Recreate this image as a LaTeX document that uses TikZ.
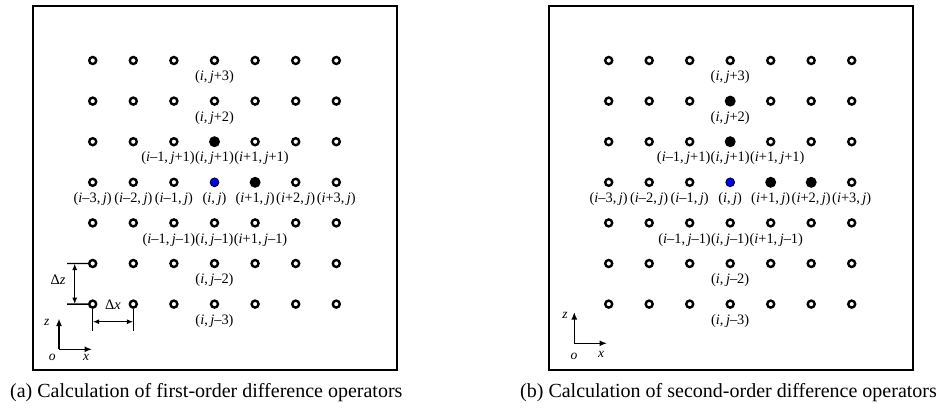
\documentclass[tikz,border=0pt]{standalone}
\usepackage{fontspec}
\setmainfont{Liberation Serif}
\usetikzlibrary{arrows.meta}
\newcommand\cmsp{,\kern0.17em}
\begin{document}
\begin{tikzpicture}[x=1pt,y=-1pt,
  pt/.style={circle, draw=black, line width=2.4pt, minimum size=7pt, inner sep=0pt},
  filled/.style={draw=none, fill=black, minimum size=11pt},
  bluept/.style={fill=blue, line width=0.8pt, minimum size=8.8pt},
  lab/.style={font=\fontsize{14.4}{14.4}\selectfont, inner sep=0pt},
  captext/.style={font=\fontsize{20}{20}\selectfont, inner sep=0pt, anchor=west},
  frame/.style={draw=black, line width=2pt},
  axis/.style={line width=1.6pt, -{Latex[length=7.5pt,width=6pt]}},
  dim/.style={line width=1.4pt, {Latex[length=6.5pt,width=5pt]}-{Latex[length=6.5pt,width=5pt]}},
  ext/.style={line width=1.4pt},
  axl/.style={font=\fontsize{13.5}{13.5}\selectfont\itshape, inner sep=0pt},
  a-3-2/.style={filled}, a-4-3/.style={filled}, a-3-3/.style={bluept},
  b-3-1/.style={filled}, b-3-2/.style={filled}, b-4-3/.style={filled}, b-5-3/.style={filled}, b-3-3/.style={bluept}
]
\useasboundingbox (0,0) rectangle (937,410);

% ---------- panel (a) ----------
\draw[frame] (33,6) rectangle (397,370);
\foreach \c in {0,...,6}{
  \foreach \r in {0,...,6}{
    \node[pt, a-\c-\r/.try] (a-\c-\r) at (92.7+40.6*\c, 60.5+40.6*\r) {};
  }
}
\node[lab] (al-0) at ([yshift=-16.8pt]a-3-0) {(\textit{i}\cmsp\textit{j}+3)};
\node[lab] (al-1) at ([yshift=-16.8pt]a-3-1) {(\textit{i}\cmsp\textit{j}+2)};
\node[lab] (al-2m) at ([yshift=-16.8pt]a-3-2) {(\textit{i}\cmsp\textit{j}+1)};
\node[lab, anchor=east] (al-2l) at (al-2m.west) {(\textit{i}–1\cmsp\textit{j}+1)};
\node[lab, anchor=west] (al-2r) at (al-2m.east) {(\textit{i}+1\cmsp\textit{j}+1)};
\node[lab] (al-30) at ([yshift=-16.8pt]a-0-3) {(\textit{i}–3\cmsp\textit{j})};
\node[lab] (al-31) at ([yshift=-16.8pt]a-1-3) {(\textit{i}–2\cmsp\textit{j})};
\node[lab] (al-32) at ([yshift=-16.8pt]a-2-3) {(\textit{i}–1\cmsp\textit{j})};
\node[lab] (al-33) at ([yshift=-16.8pt]a-3-3) {(\textit{i}\cmsp\textit{j})};
\node[lab] (al-34) at ([yshift=-16.8pt]a-4-3) {(\textit{i}+1\cmsp\textit{j})};
\node[lab] (al-35) at ([yshift=-16.8pt]a-5-3) {(\textit{i}+2\cmsp\textit{j})};
\node[lab] (al-36) at ([yshift=-16.8pt]a-6-3) {(\textit{i}+3\cmsp\textit{j})};
\node[lab] (al-4m) at ([yshift=-16.8pt]a-3-4) {(\textit{i}\cmsp\textit{j}–1)};
\node[lab, anchor=east] (al-4l) at (al-4m.west) {(\textit{i}–1\cmsp\textit{j}–1)};
\node[lab, anchor=west] (al-4r) at (al-4m.east) {(\textit{i}+1\cmsp\textit{j}–1)};
\node[lab] (al-5) at ([yshift=-16.8pt]a-3-5) {(\textit{i}\cmsp\textit{j}–2)};
\node[lab] (al-6) at ([yshift=-16.8pt]a-3-6) {(\textit{i}\cmsp\textit{j}–3)};

% dimension marks
\coordinate (dz1) at (67,263.5);
\coordinate (dz2) at (67,304.1);
\draw[ext] (dz1) -- (a-0-5.west);
\draw[ext] (dz2) -- (a-0-6.west);
\coordinate (dzt) at (74.7,263.5);
\coordinate (dzb) at (74.7,304.1);
\draw[dim] (dzt) -- (dzb);
\node[lab] (dzl) at (58,279.5) {Δ\textit{z}};
\coordinate (dx1) at (92.7,331);
\coordinate (dx2) at (133.3,331);
\draw[ext] (a-0-6.south) -- (dx1);
\draw[ext] (a-1-6.south) -- (dx2);
\coordinate (dxl) at (92.7,321.7);
\coordinate (dxr) at (133.3,321.7);
\draw[dim] (dxl) -- (dxr);
\node[lab] (dxt) at (113,304.5) {Δ\textit{x}};

% axes
\coordinate (ao) at (59,349.3);
\coordinate (az) at (59,318.5);
\coordinate (ax) at (92,349.3);
\draw[axis] (ao) -- (az);
\draw[axis] (ao) -- (ax);
\node[axl] (azl) at (46.7,322) {z};
\node[axl] (aol) at (52.3,357) {o};
\node[axl] (axl) at (86,357) {x};

\node[captext] (capa) at (10,392.7) {(a) Calculation of first-order difference operators};

% ---------- panel (b) ----------
\draw[frame] (548.7,6) rectangle (912.7,370);
\foreach \c in {0,...,6}{
  \foreach \r in {0,...,6}{
    \node[pt, b-\c-\r/.try] (b-\c-\r) at (608.7+40.5*\c, 60.5+40.6*\r) {};
  }
}
\node[lab] (bl-0) at ([yshift=-16.8pt]b-3-0) {(\textit{i}\cmsp\textit{j}+3)};
\node[lab] (bl-1) at ([yshift=-16.8pt]b-3-1) {(\textit{i}\cmsp\textit{j}+2)};
\node[lab] (bl-2m) at ([yshift=-16.8pt]b-3-2) {(\textit{i}\cmsp\textit{j}+1)};
\node[lab, anchor=east] (bl-2l) at (bl-2m.west) {(\textit{i}–1\cmsp\textit{j}+1)};
\node[lab, anchor=west] (bl-2r) at (bl-2m.east) {(\textit{i}+1\cmsp\textit{j}+1)};
\node[lab] (bl-30) at ([yshift=-16.8pt]b-0-3) {(\textit{i}–3\cmsp\textit{j})};
\node[lab] (bl-31) at ([yshift=-16.8pt]b-1-3) {(\textit{i}–2\cmsp\textit{j})};
\node[lab] (bl-32) at ([yshift=-16.8pt]b-2-3) {(\textit{i}–1\cmsp\textit{j})};
\node[lab] (bl-33) at ([yshift=-16.8pt]b-3-3) {(\textit{i}\cmsp\textit{j})};
\node[lab] (bl-34) at ([yshift=-16.8pt]b-4-3) {(\textit{i}+1\cmsp\textit{j})};
\node[lab] (bl-35) at ([yshift=-16.8pt]b-5-3) {(\textit{i}+2\cmsp\textit{j})};
\node[lab] (bl-36) at ([yshift=-16.8pt]b-6-3) {(\textit{i}+3\cmsp\textit{j})};
\node[lab] (bl-4m) at ([yshift=-16.8pt]b-3-4) {(\textit{i}\cmsp\textit{j}–1)};
\node[lab, anchor=east] (bl-4l) at (bl-4m.west) {(\textit{i}–1\cmsp\textit{j}–1)};
\node[lab, anchor=west] (bl-4r) at (bl-4m.east) {(\textit{i}+1\cmsp\textit{j}–1)};
\node[lab] (bl-5) at ([yshift=-16.8pt]b-3-5) {(\textit{i}\cmsp\textit{j}–2)};
\node[lab] (bl-6) at ([yshift=-16.8pt]b-3-6) {(\textit{i}\cmsp\textit{j}–3)};

\coordinate (bo) at (574.3,343.3);
\coordinate (bz) at (574.3,312);
\coordinate (bx) at (607,343.3);
\draw[axis] (bo) -- (bz);
\draw[axis] (bo) -- (bx);
\node[axl] (bzl) at (565,315) {z};
\node[axl] (bol) at (574,356) {o};
\node[axl] (bxl) at (601,354) {x};

\node[captext] (capb) at (520,392.7) {(b) Calculation of second-order difference operators};
\end{tikzpicture}
\end{document}
